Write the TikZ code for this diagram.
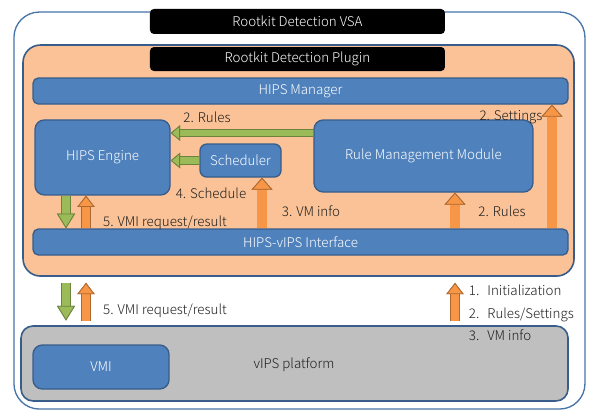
\documentclass[tikz,border=0pt]{standalone}
\usepackage{fontspec}
\setmainfont{Noto Sans CJK KR Light}
\usetikzlibrary{arrows.meta}

\definecolor{bluefill}{RGB}{79,129,189}
\definecolor{blueline}{RGB}{56,93,138}
\definecolor{peach}{RGB}{250,194,150}
\definecolor{orangefill}{RGB}{247,150,70}
\definecolor{greenfill}{RGB}{155,187,89}
\definecolor{platform}{RGB}{191,191,191}
\definecolor{labeltext}{RGB}{30,30,30}

\tikzset{
  fatarrow/.style n args={5}{draw=#1, line width=#2,
    -{Triangle[width=#4, length=#5, fill=#1, color=#1!70!black, line width=0.6pt]},
    preaction={draw=#1!70!black, line width=#3}},
  orangearrow/.style={fatarrow={orangefill}{7pt}{8.2pt}{15.75pt}{9pt}},
  orangepair/.style={fatarrow={orangefill}{6pt}{7.2pt}{13pt}{8.5pt}},
  greenarrow/.style={fatarrow={greenfill}{5pt}{6.2pt}{11.5pt}{7pt}},
  greenpair/.style={fatarrow={greenfill}{6pt}{7.2pt}{13.5pt}{11pt}},
  bluebox/.style={rectangle, rounded corners=7pt, fill=bluefill, draw=blueline,
    line width=1pt, text=white, inner sep=0pt, font=\fontsize{10}{12}\selectfont},
  bar/.style={bluebox, rounded corners=4pt},
  titlebar/.style={rectangle, rounded corners=3pt, fill=black, text=white,
    inner sep=0pt, font=\fontsize{10}{12}\selectfont},
  lbl/.style={text=labeltext, inner sep=1pt, font=\fontsize{10}{12}\selectfont}
}

\begin{document}
\begin{tikzpicture}[x=1pt,y=-1pt]
  \useasboundingbox (0,0) rectangle (442.5,309);

  % containers
  \node[draw=bluefill!90!black, line width=1pt, fill=white, rounded corners=19pt,
        minimum width=428.25pt, minimum height=297.75pt] (vsa) at (224.6,157.9) {};
  \node[draw=blueline, line width=1.2pt, fill=peach, rounded corners=13pt,
        minimum width=413.25pt, minimum height=173.25pt] (plugin) at (223.9,120.4) {};
  \node[draw=blueline, line width=1.2pt, fill=platform, rounded corners=9pt,
        minimum width=410.25pt, minimum height=56.25pt] (vips) at (220.9,272.6) {};
  \node[titlebar, minimum width=221.25pt, minimum height=18.75pt] (vsatitle) at (223.1,16.1) {Rootkit Detection VSA};
  \node[titlebar, minimum width=221.25pt, minimum height=18pt] (plugintitle) at (223.1,44.25) {Rootkit Detection Plugin};

  % modules
  \node[bar, minimum width=401.25pt, minimum height=19.5pt] (manager) at (225.4,68.25) {HIPS Manager};
  \node[bluebox, minimum width=101.25pt, minimum height=56.25pt] (engine) at (76.9,118.1) {HIPS Engine};
  \node[bluebox, rounded corners=5pt, minimum width=60.75pt, minimum height=24.75pt] (sched) at (180.4,120.4) {Scheduler};
  \node[bluebox, minimum width=164.25pt, minimum height=54pt] (rmm) at (317.6,117) {Rule Management Module};
  \node[bar, minimum width=401.25pt, minimum height=19.5pt] (iface) at (225.4,181.5) {HIPS-vIPS Interface};
  \node[bluebox, minimum width=102pt, minimum height=33pt] (vmi) at (75.75,275.25) {VMI};
  \node[lbl] (vipsl) at (220.5,273.75) {vIPS platform};

  % lanes for the arrows
  \coordinate (rulesrow) at (0,99.75);
  \coordinate (downlane) at (49.5,0);
  \coordinate (uplane) at (64.5,0);
  \coordinate (schedlane) at (196.5,0);
  \coordinate (rmmlane) at (341.25,0);
  \coordinate (setlane) at (414,0);

  \draw[greenarrow] (rmm.west |- rulesrow) -- (engine.east |- rulesrow);
  \draw[greenarrow] (sched.west) -- (engine.east |- sched.west);
  \draw[orangearrow] (iface.north -| schedlane) -- (sched.south -| schedlane);
  \draw[orangearrow] (iface.north -| rmmlane) -- (rmm.south -| rmmlane);
  \draw[orangearrow] (iface.north -| setlane) -- (manager.south -| setlane);
  \draw[greenpair] (engine.south -| downlane) -- (iface.north -| downlane);
  \draw[orangepair] (iface.north -| uplane) -- (engine.south -| uplane);
  \draw[greenpair, shorten <=4.5pt, shorten >=3.5pt] (plugin.south -| downlane) -- (vips.north -| downlane);
  \draw[orangepair, shorten <=3.5pt, shorten >=4.5pt] (vips.north -| uplane) -- (plugin.south -| uplane);
  \draw[orangepair, shorten <=3.5pt, shorten >=4.5pt] (vips.north -| rmmlane) -- (plugin.south -| rmmlane);

  % labels
  \node[lbl] (rulesl) at (155.25,87.75) {2. Rules};
  \node[lbl] (settingsl) at (383.25,87.75) {2. Settings};
  \node[lbl] (schedl) at (158.25,144.75) {4. Schedule};
  \node[lbl] (vminfol) at (233.25,158.25) {3. VM info};
  \node[lbl] (rulesr) at (376.5,158.25) {2. Rules};
  \node[lbl] (vmireq) at (123.75,167.25) {5. VMI request/result};
  \node[lbl] (vmireqlow) at (123.75,233.25) {5. VMI request/result};
  \node[lbl, anchor=north west] (steps) at (350.5,208.5) {\fontsize{10}{17}\selectfont
    \begin{tabular}{@{}l@{\hspace{6pt}}l@{}}
      1. & Initialization\\
      2. & Rules/Settings\\
      3. & VM info
    \end{tabular}};
\end{tikzpicture}
\end{document}
